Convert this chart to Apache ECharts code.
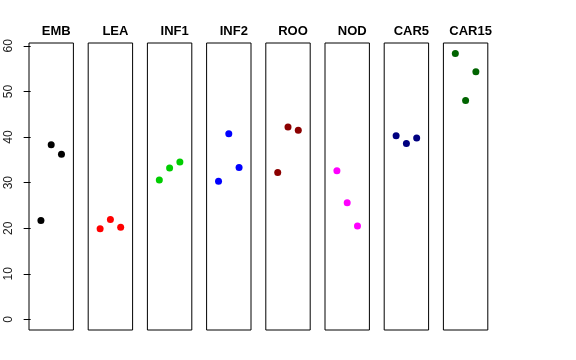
<!DOCTYPE html>
<html><head><meta charset="utf-8">
<script src="https://cdn.jsdelivr.net/npm/echarts@6/dist/echarts.min.js"></script>
<style>html,body{margin:0;padding:0;background:#fff}#c{width:576px;height:360px}</style>
</head><body><div id="c"></div>
<script>
const categories = ['EMB','LEA','INF1','INF2','ROO','NOD','CAR5','CAR15'];
const colors = ['#000000','#FF0000','#00CD00','#0000FF','#8B0000','#FF00FF','#000080','#006400'];
const xPositions = [1,2,3];
const EMB = [21.7,38.3,36.2];
const LEA = [19.9,21.9,20.2];
const INF1 = [30.6,33.2,34.5];
const INF2 = [30.3,40.7,33.3];
const ROO = [32.2,42.2,41.5];
const NOD = [32.6,25.6,20.5];
const CAR5 = [40.3,38.6,39.8];
const CAR15 = [58.3,48.0,54.3];
const yTicks = [0,10,20,30,40,50,60];
const seriesValues = [EMB,LEA,INF1,INF2,ROO,NOD,CAR5,CAR15];

(function(){
const yMin = -2.33, yMax = 60.63;
const left0 = 29, step = 59.2, w = 44.4, gTop = 43, h = 287;
const grids = [], xAxes = [], yAxes = [], series = [], titles = [];
categories.forEach((name, i) => {
  const l = left0 + i * step;
  grids.push({left: l, top: gTop, width: w, height: h, show: true, borderColor: '#000', borderWidth: 1, backgroundColor: 'transparent'});
  xAxes.push({type: 'value', gridIndex: i, min: -0.16, max: 4.16, show: false});
  yAxes.push({type: 'value', gridIndex: i, min: yMin, max: yMax,
    splitLine: {show: false}, axisLine: {show: false},
    axisTick: {show: i === 0, length: 7, inside: false, customValues: yTicks, lineStyle: {color: '#000'}},
    axisLabel: {show: i === 0, rotate: 90, margin: 14, customValues: yTicks, fontFamily: 'Liberation Sans', fontSize: 12, color: '#222'}
  });
  series.push({type: 'scatter', xAxisIndex: i, yAxisIndex: i, symbolSize: 7,
    itemStyle: {color: colors[i], opacity: 1}, silent: true,
    data: seriesValues[i].map((v, k) => [xPositions[k], v])});
  titles.push({text: name, left: l + w / 2, top: 20, textAlign: 'center',
    textStyle: {fontFamily: 'Liberation Sans', fontWeight: 'bold', fontSize: 13, color: '#000'}});
});
const chart = echarts.init(document.getElementById('c'), null, {renderer: 'canvas'});
chart.setOption({animation: false, title: titles, grid: grids, xAxis: xAxes, yAxis: yAxes, series: series});
})();
</script></body></html>
